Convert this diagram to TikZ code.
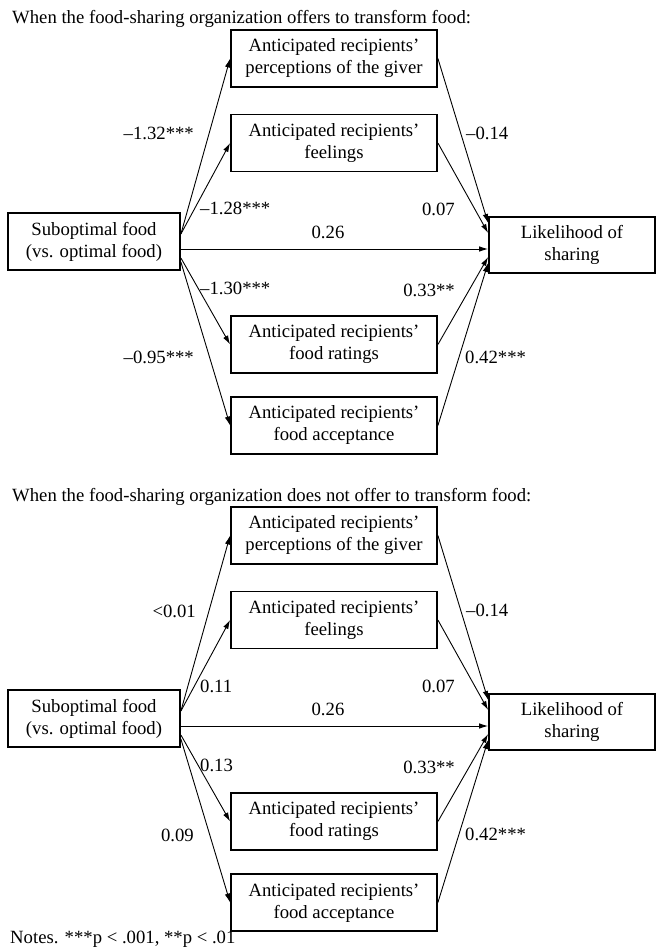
\documentclass[tikz,border=0pt]{standalone}
\usepackage{fontspec}
\setmainfont{Liberation Serif}
\usetikzlibrary{arrows.meta}
\tikzset{
  box/.style={draw, line width=1.8pt, align=center, inner sep=0pt, minimum height=57pt, font=\fontsize{18.7}{22}\selectfont},
  medbox/.style={box, minimum width=206pt},
  subbox/.style={box, minimum width=172pt},
  likbox/.style={box, minimum width=166pt, minimum height=56pt},
  arr/.style={line width=0.9pt, -{Latex[length=9pt,width=5.5pt]}},
  lab/.style={inner sep=0pt, font=\fontsize{18.7}{22}\selectfont},
  ttlstyle/.style={inner sep=0pt, anchor=base west, font=\fontsize{18.7}{22}\selectfont},
}
\begin{document}
\begin{tikzpicture}[x=1pt,y=-1pt]
\useasboundingbox (0,0) rectangle (657,949);
\foreach \off/\s/\ttext in {0/a/{offers to transform food:}, 477/b/{does not offer to transform food:}} {
  \begin{scope}[shift={(0,\off)}]
    \node[ttlstyle] (title\s) at (12,24) {When the food-sharing organization \ttext};
    \node[medbox] (per\s) at (334,58.5) {Anticipated recipients’\\perceptions of the giver};
    \node[medbox] (fee\s) at (334,143) {Anticipated recipients’\\feelings};
    \node[medbox] (rat\s) at (334,344.5) {Anticipated recipients’\\food ratings};
    \node[medbox] (acc\s) at (334,425.5) {Anticipated recipients’\\food acceptance};
    \node[subbox] (sub\s) at (94,241.5) {Suboptimal food\\(vs. optimal food)};
    \node[likbox] (lik\s) at (572,245) {Likelihood of\\sharing};
    \draw[arr] ([yshift=7.5pt]sub\s.east) -- (per\s.west);
    \draw[arr] ([yshift=7.5pt]sub\s.east) -- (fee\s.west);
    \draw[arr] ([yshift=-7.5pt]sub\s.east) -- ([yshift=-4pt]lik\s.west);
    \draw[arr] ([yshift=-16.5pt]sub\s.east) -- (rat\s.west);
    \draw[arr] ([yshift=-20.5pt]sub\s.east) -- (acc\s.west);
    \draw[arr] (per\s.east) -- ([yshift=22pt]lik\s.west);
    \draw[arr] (fee\s.east) -- ([yshift=12pt]lik\s.west);
    \draw[arr] (rat\s.east) -- ([yshift=-12pt]lik\s.west);
    \draw[arr] (acc\s.east) -- ([yshift=-18pt]lik\s.west);
    \node[lab,anchor=west] (m14\s) at (466,133) {–0.14};
    \node[lab,anchor=east] (m07\s) at (455,209) {0.07};
    \node[lab] (m26\s) at (328,232) {0.26};
    \node[lab,anchor=east] (m33\s) at (455,290) {0.33**};
    \node[lab,anchor=west] (m42\s) at (465,357) {0.42***};
  \end{scope}
}
% top panel left labels
\node[lab,anchor=east] (la1) at (194,133) {–1.32***};
\node[lab,anchor=west] (la2) at (200,208) {–1.28***};
\node[lab,anchor=west] (la3) at (200,288) {–1.30***};
\node[lab,anchor=east] (la4) at (194,357) {–0.95***};
% bottom panel left labels
\node[lab,anchor=east] (lb1) at (196,611) {<0.01};
\node[lab,anchor=west] (lb2) at (200,686) {0.11};
\node[lab,anchor=west] (lb3) at (200,765) {0.13};
\node[lab,anchor=east] (lb4) at (194,835) {0.09};
\node[ttlstyle] (notes) at (10,943) {Notes. ***p < .001, **p < .01};
\end{tikzpicture}
\end{document}
